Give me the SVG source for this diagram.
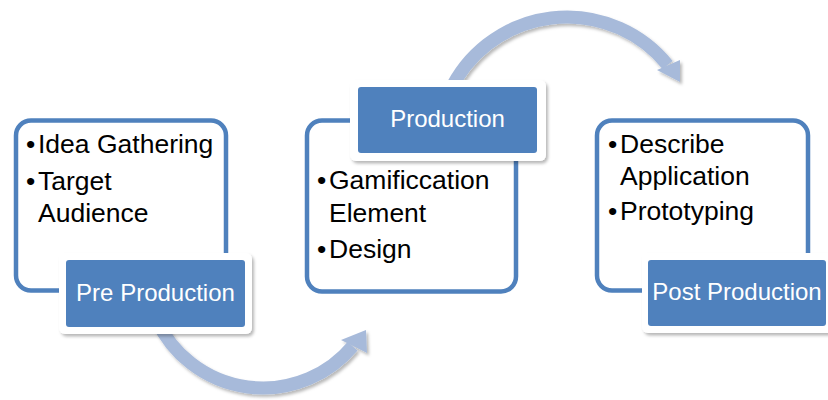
<svg xmlns="http://www.w3.org/2000/svg" width="828" height="400" viewBox="0 0 828 400">
<defs>
<filter id="sh" x="-20%" y="-20%" width="140%" height="140%">
<feDropShadow dx="2" dy="2.5" stdDeviation="1.6" flood-color="#000" flood-opacity="0.28"/>
</filter>
<style>
.frame{fill:#fff;stroke:#4F81BD;stroke-width:4.5}
.halo{fill:#fff;filter:url(#sh)}
.lab{fill:#4F81BD}
.lt{font-family:"Liberation Sans",Arial,sans-serif;font-size:24px;fill:#fff;text-anchor:middle}
.bt{font-family:"Liberation Sans",Arial,sans-serif;font-size:26.5px;fill:#000}
.arc{fill:none;stroke:#A7BADA;stroke-width:13}
.head{fill:#A7BADA}
</style>
</defs>
<rect width="828" height="400" fill="#fff"/>
<g id="connectors">
<g filter="url(#sh)">
<path class="arc" d="M 156.9 320.4 A 117 117 0 0 0 352.6 346.2"/>
<polygon class="head" points="366,330 341,340 367,353"/>
</g>
<g filter="url(#sh)">
<path class="arc" d="M 449.6 91.8 A 129.5 129.5 0 0 1 667.6 65"/>
<polygon class="head" points="680,82 680,60 657,70"/>
</g>
</g>
<g id="pre-production">
<rect class="frame" x="16" y="120.5" width="210" height="170" rx="15"/>
<text class="bt" y="153"><tspan x="26">•</tspan><tspan x="38">Idea Gathering</tspan></text>
<text class="bt" y="190"><tspan x="26">•</tspan><tspan x="38">Target</tspan></text>
<text class="bt" x="38" y="222">Audience</text>
<rect class="halo" x="59" y="253" width="193" height="81" rx="6"/>
<rect class="lab" x="66" y="260" width="179" height="67" rx="3"/>
<text class="lt" x="155.5" y="301">Pre Production</text>
</g>
<g id="production">
<rect class="frame" x="307" y="120.5" width="209" height="171" rx="15"/>
<text class="bt" y="189"><tspan x="317">•</tspan><tspan x="329">Gamificcation</tspan></text>
<text class="bt" x="329" y="222">Element</text>
<text class="bt" y="258"><tspan x="317">•</tspan><tspan x="329">Design</tspan></text>
<rect class="halo" x="350" y="80" width="196" height="81" rx="6"/>
<rect class="lab" x="358" y="87" width="179" height="66" rx="3"/>
<text class="lt" x="447.5" y="127">Production</text>
</g>
<g id="post-production">
<rect class="frame" x="597" y="120.5" width="211" height="170" rx="15"/>
<text class="bt" y="153"><tspan x="608">•</tspan><tspan x="620">Describe</tspan></text>
<text class="bt" x="620" y="185">Application</text>
<text class="bt" y="220"><tspan x="608">•</tspan><tspan x="620">Prototyping</tspan></text>
<rect class="halo" x="642" y="253" width="196" height="80" rx="6"/>
<rect class="lab" x="648" y="260" width="178" height="66" rx="3"/>
<text class="lt" x="737" y="300">Post Production</text>
</g>
</svg>
